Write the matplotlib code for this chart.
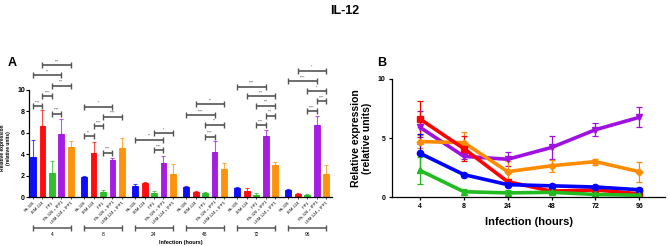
import numpy as np
import matplotlib.pyplot as plt

plt.rcParams['font.family'] = ['Liberation Sans', 'DejaVu Sans']

hours = ['4', '8', '24', '48', '72', '96']
groups = ['Rh-326', 'LEM-124', 'IFP1', 'Rh-326 + IFP1', 'LEM-124 + IFP1']
colors = ['#0000ff', '#ff0000', '#22bb22', '#a010e0', '#ff8c00']
markers = ['o', 's', '^', 'v', 'D']

# mean values per treatment across infection times
rh326 = [3.7, 1.9, 1.05, 0.95, 0.85, 0.62]
lem124 = [6.6, 4.1, 1.3, 0.5, 0.6, 0.28]
ifp1 = [2.25, 0.45, 0.35, 0.4, 0.22, 0.15]
rh326_ifp1 = [5.9, 3.45, 3.2, 4.2, 5.7, 6.75]
lem124_ifp1 = [4.7, 4.6, 2.15, 2.65, 3.0, 2.15]

rh326_err = [1.6, 0.05, 0.15, 0.1, 0.1, 0.12]
lem124_err = [1.5, 1.05, 0.15, 0.1, 0.25, 0.1]
ifp1_err = [1.15, 0.25, 0.25, 0.05, 0.15, 0.15]
rh326_ifp1_err = [1.4, 0.2, 0.6, 1.0, 0.55, 0.85]
lem124_ifp1_err = [0.55, 0.95, 0.9, 0.5, 0.25, 0.85]

means = [rh326, lem124, ifp1, rh326_ifp1, lem124_ifp1]
errs = [rh326_err, lem124_err, ifp1_err, rh326_ifp1_err, lem124_ifp1_err]

# significance brackets: (time index, bar a, bar b, height, stars)
sig = [
    (0, 1, 4, 12.3, '***'), (0, 0, 3, 11.4, '**'), (0, 2, 4, 10.4, '***'),
    (0, 1, 2, 9.4, '****'), (0, 0, 1, 8.5, '****'), (0, 2, 3, 7.8, '****'),
    (1, 0, 3, 8.45, '*'), (1, 2, 4, 7.5, '****'), (1, 1, 2, 6.65, '****'),
    (1, 0, 1, 5.7, '**'), (1, 2, 3, 4.15, '****'),
    (2, 2, 4, 6.0, '*'), (2, 0, 3, 5.35, '**'), (2, 2, 3, 4.4, '****'),
    (3, 1, 4, 8.65, '**'), (3, 0, 3, 7.65, '****'), (3, 2, 4, 6.75, '**'),
    (3, 2, 3, 5.65, '****'),
    (4, 0, 3, 10.3, '****'), (4, 1, 4, 9.4, '***'), (4, 2, 4, 8.55, '***'),
    (4, 3, 4, 7.6, '***'), (4, 2, 3, 6.7, '****'),
    (5, 1, 4, 11.8, '*'), (5, 0, 3, 10.85, '****'), (5, 2, 4, 9.9, '*'),
    (5, 3, 4, 8.95, '****'), (5, 2, 3, 8.05, '****'),
]

fig = plt.figure(figsize=(6.69, 2.46), dpi=100)
fig.text(0.515, 0.955, 'IL-12', ha='center', va='center', fontsize=9, fontweight='bold')
fig.text(0.012, 0.745, 'A', ha='left', va='center', fontsize=9, fontweight='bold')
fig.text(0.563, 0.745, 'B', ha='left', va='center', fontsize=9, fontweight='bold')

# ---- panel A: grouped bars
axA = fig.add_axes([0.0434, 0.199, 0.453, 0.557])
step = 5.4
for i in range(5):
    x = np.arange(6) * step + i
    axA.bar(x, means[i], width=0.62, color=colors[i], edgecolor=colors[i],
            linewidth=0.6, alpha=0.95, zorder=2)
    axA.errorbar(x, means[i], yerr=[np.zeros(6), errs[i]], fmt='none',
                 ecolor=colors[i], elinewidth=0.8, capsize=1.5, capthick=0.8,
                 alpha=0.7, zorder=1)

for g, a, b, h, s in sig:
    x1, x2 = g * step + a, g * step + b
    axA.errorbar([(x1 + x2) / 2], [h], xerr=[(x2 - x1) / 2], fmt='none',
                 ecolor='#555555', elinewidth=1.2, capsize=2, capthick=1.0)
    axA.text((x1 + x2) / 2, h + 0.15, s, ha='center', va='bottom', fontsize=2.5,
             color='#444444')

ticks = [g * step + i for g in range(6) for i in range(5)]
axA.set_xticks(ticks)
axA.set_xticklabels(groups * 6, rotation=45, ha='right', rotation_mode='anchor',
                    fontsize=2.9)
axA.tick_params(axis='x', length=1.5, width=0.5, pad=1)
axA.set_xlim(-0.42, 5 * step + 4.63)
axA.set_ylim(0, 12.8)
axA.set_yticks([0, 2, 4, 6, 8, 10])
axA.tick_params(axis='y', labelsize=5, length=2, width=0.8, pad=1)
for lab in axA.get_yticklabels():
    lab.set_fontweight('bold')
axA.spines['left'].set_bounds(0, 10)
axA.spines['top'].set_visible(False)
axA.spines['right'].set_visible(False)
axA.spines['left'].set_linewidth(0.9)
axA.spines['bottom'].set_linewidth(0.9)
axA.set_ylabel('Relative expression\n(relative units)', fontsize=3.5,
               fontweight='bold', labelpad=2)
axA.yaxis.set_label_coords(-0.06, 0.36)

trans = axA.get_xaxis_transform()
for g in range(6):
    x1, x2 = g * step, g * step + 4
    axA.errorbar([(x1 + x2) / 2], [-0.226], xerr=[2], fmt='none', ecolor='#555555',
                 elinewidth=1.1, capsize=2, capthick=1.0, transform=trans,
                 clip_on=False)
    axA.text((x1 + x2) / 2, -0.255, hours[g], transform=trans, ha='center',
             va='top', fontsize=3.5)
axA.text(0.5, -0.31, 'Infection (hours)', transform=axA.transAxes, ha='center',
         va='top', fontsize=4, fontweight='bold')

# ---- panel B: lines
axB = fig.add_axes([0.586, 0.199, 0.408, 0.48])
xp = np.arange(6)
for i in [3, 4, 1, 0, 2]:
    axB.errorbar(xp, means[i], yerr=errs[i], color=colors[i], marker=markers[i],
                 markersize=4.5 if markers[i] != 'D' else 3.5, linewidth=2.6,
                 elinewidth=0.9, capsize=2.5, capthick=0.9, ecolor=colors[i])
axB.set_xlim(-0.64, 5.59)
axB.set_ylim(0, 10)
axB.set_xticks(xp)
axB.set_xticklabels(hours)
axB.set_yticks([0, 5, 10])
axB.tick_params(labelsize=5, length=2.5, width=0.9, pad=2)
for lab in axB.get_xticklabels() + axB.get_yticklabels():
    lab.set_fontweight('bold')
axB.spines['top'].set_visible(False)
axB.spines['right'].set_visible(False)
axB.spines['left'].set_linewidth(0.9)
axB.spines['bottom'].set_linewidth(0.9)
axB.set_xlabel('Infection (hours)', fontsize=8, fontweight='bold', labelpad=5)
axB.set_ylabel('Relative expression\n(relative units)', fontsize=7.5,
               fontweight='bold', labelpad=4)

fig.savefig('out.png', dpi=100)
